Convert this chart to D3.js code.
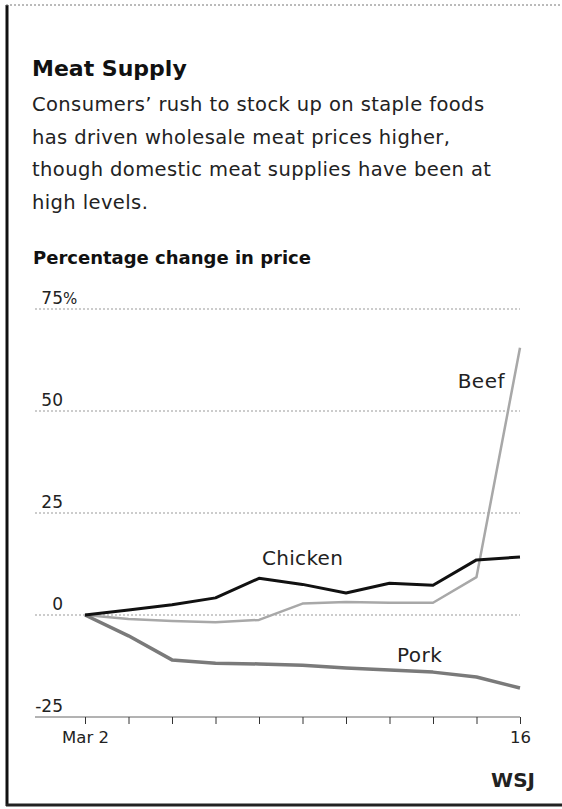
<!DOCTYPE html>
<html>
<head>
<meta charset="utf-8">
<script src="https://cdn.jsdelivr.net/npm/d3@7"></script>
<style>
  body { margin: 0; background: #fff; }
  svg { display: block; font-family: "DejaVu Sans", sans-serif; }
</style>
</head>
<body>
<svg id="chart" width="562" height="809"></svg>
<script>
var dates   = ["Mar 2","Mar 3","Mar 4","Mar 5","Mar 6","Mar 9","Mar 10","Mar 11","Mar 12","Mar 13","Mar 16"];
var chicken = [0, 1.2, 2.5, 4.2, 9, 7.5, 5.4, 7.8, 7.3, 13.5, 14.2];
var beef    = [0, -1, -1.5, -1.8, -1.2, 2.8, 3.2, 3, 3, 9.3, 65.5];
var pork    = [0, -5.1, -11, -11.8, -12, -12.3, -13, -13.5, -14, -15.2, -17.9];
var yTicks  = [75, 50, 25, 0, -25];
var xLabels = {"Mar 2": "Mar 2", "Mar 16": "16"};

var subtitle = [
  "Consumers\u2019 rush to stock up on staple foods",
  "has driven wholesale meat prices higher,",
  "though domestic meat supplies have been at",
  "high levels."
];

var svg = d3.select("#chart");

// frame
svg.append("line").attr("x1", 7).attr("x2", 7).attr("y1", 5).attr("y2", 806)
  .attr("stroke", "#111").attr("stroke-width", 3);
svg.append("line").attr("x1", 6).attr("x2", 562).attr("y1", 5).attr("y2", 5)
  .attr("stroke", "#777").attr("stroke-width", 1).attr("stroke-dasharray", "2,2");
svg.append("line").attr("x1", 6).attr("x2", 562).attr("y1", 805).attr("y2", 805)
  .attr("stroke", "#222").attr("stroke-width", 3);

// titles
svg.append("text").attr("x", 32).attr("y", 76)
  .attr("font-size", 22).attr("font-weight", "bold").attr("fill", "#111")
  .text("Meat Supply");

svg.selectAll(".sub")
  .data(subtitle)
  .enter()
  .append("text")
  .attr("class", "sub")
  .attr("x", 32)
  .attr("y", function(d, i){ return 111 + i * 32.5; })
  .attr("font-size", 19.5)
  .attr("letter-spacing", 0.4)
  .attr("fill", "#222")
  .text(function(d){ return d; });

svg.append("text").attr("x", 33).attr("y", 264)
  .attr("font-size", 18).attr("font-weight", "bold").attr("fill", "#111")
  .text("Percentage change in price");

// scales
var x = d3.scalePoint().domain(dates).range([85, 520]);
var y = d3.scaleLinear().domain([-25, 75]).range([717, 309]);

// gridlines + y labels
var yAxis = d3.axisLeft(y).tickValues(yTicks).tickSize(0).tickFormat(function(d){ return d; });
var gy = svg.append("g").attr("transform", "translate(63,0)").call(yAxis);
gy.select(".domain").remove();
gy.selectAll("text")
  .attr("x", 0).attr("dy", -6)
  .attr("text-anchor", "end")
  .attr("font-family", "DejaVu Sans, sans-serif")
  .attr("font-size", 17).attr("fill", "#222");
gy.selectAll(".tick")
  .filter(function(d){ return d === 75; })
  .append("text")
  .attr("x", 0).attr("dy", -6).attr("fill", "#222")
  .attr("text-anchor", "start")
  .attr("font-family", "DejaVu Sans, sans-serif")
  .attr("font-size", 15)
  .text("%");

svg.selectAll(".grid")
  .data(yTicks)
  .enter()
  .append("line")
  .attr("class", "grid")
  .attr("x1", 35).attr("x2", 520)
  .attr("y1", function(d){ return y(d); })
  .attr("y2", function(d){ return y(d); })
  .attr("stroke", function(d){ return d === -25 ? "#666" : "#999"; })
  .attr("stroke-width", 1)
  .attr("stroke-dasharray", function(d){ return d === -25 ? null : "2,2"; });

// x axis ticks
var xAxis = d3.axisBottom(x).tickSize(7).tickFormat(function(d){ return xLabels[d] || ""; });
var gx = svg.append("g").attr("transform", "translate(0," + y(-25) + ")").call(xAxis);
gx.select(".domain").remove();
gx.selectAll("line").attr("stroke", "#333");
gx.selectAll("text")
  .attr("y", 14)
  .attr("font-family", "DejaVu Sans, sans-serif")
  .attr("font-size", 16.5).attr("fill", "#222");

// lines
var series = [
  {name: "Beef",    values: beef,    color: "#a8a8a8", width: 2.5},
  {name: "Pork",    values: pork,    color: "#7a7a7a", width: 3.5},
  {name: "Chicken", values: chicken, color: "#111",    width: 3}
];

var line = d3.line()
  .x(function(d, i){ return x(dates[i]); })
  .y(function(d){ return y(d); });

svg.selectAll(".series")
  .data(series)
  .enter()
  .append("path")
  .attr("class", "series")
  .attr("fill", "none")
  .attr("stroke", function(d){ return d.color; })
  .attr("stroke-width", function(d){ return d.width; })
  .attr("stroke-linejoin", "round")
  .attr("d", function(d){ return line(d.values); });

// series labels
svg.append("text").attr("x", 505).attr("y", 388).attr("text-anchor", "end")
  .attr("font-size", 20).attr("letter-spacing", 0.5).attr("fill", "#222").text("Beef");
svg.append("text").attr("x", 262).attr("y", 565)
  .attr("font-size", 20).attr("letter-spacing", 0.3).attr("fill", "#222").text("Chicken");
svg.append("text").attr("x", 397).attr("y", 662)
  .attr("font-size", 20).attr("letter-spacing", 0.5).attr("fill", "#222").text("Pork");

// source
svg.append("text").attr("x", 535).attr("y", 787).attr("text-anchor", "end")
  .attr("font-size", 20).attr("font-weight", "bold").attr("fill", "#222")
  .text("WSJ");
</script>
</body>
</html>
